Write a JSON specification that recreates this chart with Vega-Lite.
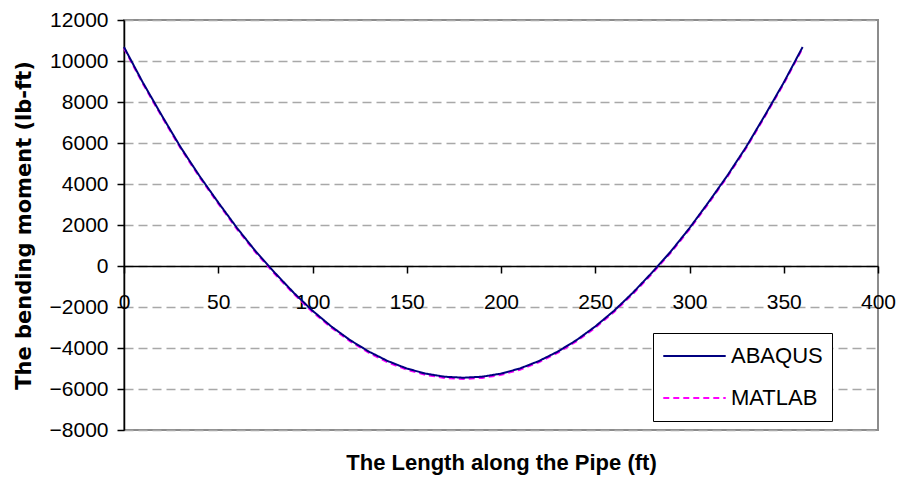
{
  "$schema": "https://vega.github.io/schema/vega-lite/v6.json",
  "width": 754,
  "height": 410,
  "autosize": {"type": "none"},
  "padding": {"left": 124, "top": 20, "right": 23, "bottom": 61},
  "background": "white",
  "config": {
    "view": {"stroke": "#8c8c8c", "strokeWidth": 2},
    "font": "Liberation Sans",
    "legend": {
      "title": null,
      "orient": "none",
      "legendX": 529,
      "legendY": 313,
      "direction": "vertical",
      "strokeColor": "black",
      "fillColor": "white",
      "padding": 9,
      "symbolType": "stroke",
      "symbolSize": 3900,
      "symbolStrokeWidth": 2,
      "labelFont": "Liberation Sans",
      "labelFontSize": 22,
      "labelColor": "black",
      "labelOffset": 4,
      "clipHeight": 28,
      "rowPadding": 14
    }
  },
  "datasets": {
    "curves": [
      {"x": 0, "M": 10680, "series": "ABAQUS"},
      {"x": 10, "M": 8950, "series": "ABAQUS"},
      {"x": 20, "M": 7350, "series": "ABAQUS"},
      {"x": 30, "M": 5800, "series": "ABAQUS"},
      {"x": 40, "M": 4400, "series": "ABAQUS"},
      {"x": 50, "M": 3100, "series": "ABAQUS"},
      {"x": 60, "M": 1850, "series": "ABAQUS"},
      {"x": 70, "M": 700, "series": "ABAQUS"},
      {"x": 80, "M": -330, "series": "ABAQUS"},
      {"x": 90, "M": -1300, "series": "ABAQUS"},
      {"x": 100, "M": -2180, "series": "ABAQUS"},
      {"x": 110, "M": -2950, "series": "ABAQUS"},
      {"x": 120, "M": -3620, "series": "ABAQUS"},
      {"x": 130, "M": -4180, "series": "ABAQUS"},
      {"x": 140, "M": -4640, "series": "ABAQUS"},
      {"x": 150, "M": -5000, "series": "ABAQUS"},
      {"x": 160, "M": -5250, "series": "ABAQUS"},
      {"x": 170, "M": -5400, "series": "ABAQUS"},
      {"x": 180, "M": -5450, "series": "ABAQUS"},
      {"x": 190, "M": -5400, "series": "ABAQUS"},
      {"x": 200, "M": -5250, "series": "ABAQUS"},
      {"x": 210, "M": -5000, "series": "ABAQUS"},
      {"x": 220, "M": -4640, "series": "ABAQUS"},
      {"x": 230, "M": -4180, "series": "ABAQUS"},
      {"x": 240, "M": -3620, "series": "ABAQUS"},
      {"x": 250, "M": -2950, "series": "ABAQUS"},
      {"x": 260, "M": -2180, "series": "ABAQUS"},
      {"x": 270, "M": -1300, "series": "ABAQUS"},
      {"x": 280, "M": -330, "series": "ABAQUS"},
      {"x": 290, "M": 700, "series": "ABAQUS"},
      {"x": 300, "M": 1850, "series": "ABAQUS"},
      {"x": 310, "M": 3100, "series": "ABAQUS"},
      {"x": 320, "M": 4400, "series": "ABAQUS"},
      {"x": 330, "M": 5800, "series": "ABAQUS"},
      {"x": 340, "M": 7350, "series": "ABAQUS"},
      {"x": 350, "M": 8950, "series": "ABAQUS"},
      {"x": 360, "M": 10680, "series": "ABAQUS"},
      {"x": 0, "M": 10620, "series": "MATLAB"},
      {"x": 10, "M": 8890, "series": "MATLAB"},
      {"x": 20, "M": 7290, "series": "MATLAB"},
      {"x": 30, "M": 5740, "series": "MATLAB"},
      {"x": 40, "M": 4340, "series": "MATLAB"},
      {"x": 50, "M": 3040, "series": "MATLAB"},
      {"x": 60, "M": 1790, "series": "MATLAB"},
      {"x": 70, "M": 640, "series": "MATLAB"},
      {"x": 80, "M": -390, "series": "MATLAB"},
      {"x": 90, "M": -1360, "series": "MATLAB"},
      {"x": 100, "M": -2240, "series": "MATLAB"},
      {"x": 110, "M": -3010, "series": "MATLAB"},
      {"x": 120, "M": -3680, "series": "MATLAB"},
      {"x": 130, "M": -4240, "series": "MATLAB"},
      {"x": 140, "M": -4700, "series": "MATLAB"},
      {"x": 150, "M": -5060, "series": "MATLAB"},
      {"x": 160, "M": -5310, "series": "MATLAB"},
      {"x": 170, "M": -5460, "series": "MATLAB"},
      {"x": 180, "M": -5510, "series": "MATLAB"},
      {"x": 190, "M": -5460, "series": "MATLAB"},
      {"x": 200, "M": -5310, "series": "MATLAB"},
      {"x": 210, "M": -5060, "series": "MATLAB"},
      {"x": 220, "M": -4700, "series": "MATLAB"},
      {"x": 230, "M": -4240, "series": "MATLAB"},
      {"x": 240, "M": -3680, "series": "MATLAB"},
      {"x": 250, "M": -3010, "series": "MATLAB"},
      {"x": 260, "M": -2240, "series": "MATLAB"},
      {"x": 270, "M": -1360, "series": "MATLAB"},
      {"x": 280, "M": -390, "series": "MATLAB"},
      {"x": 290, "M": 640, "series": "MATLAB"},
      {"x": 300, "M": 1790, "series": "MATLAB"},
      {"x": 310, "M": 3040, "series": "MATLAB"},
      {"x": 320, "M": 4340, "series": "MATLAB"},
      {"x": 330, "M": 5740, "series": "MATLAB"},
      {"x": 340, "M": 7290, "series": "MATLAB"},
      {"x": 350, "M": 8890, "series": "MATLAB"},
      {"x": 360, "M": 10620, "series": "MATLAB"}
    ]
  },
  "data": {"name": "curves"},
  "encoding": {
    "x": {
      "field": "x",
      "type": "quantitative",
      "scale": {"domain": [0, 400], "nice": false, "zero": false},
      "axis": {
        "title": "The Length along the Pipe (ft)",
        "values": [0, 50, 100, 150, 200, 250, 300, 350, 400],
        "format": "d",
        "offset": -164,
        "grid": false,
        "domainColor": "black",
        "domainWidth": 1.5,
        "tickColor": "black",
        "tickWidth": 1.5,
        "tickSize": 7,
        "labelFont": "Liberation Sans",
        "labelFontSize": 21,
        "labelColor": "black",
        "labelPadding": 18,
        "labelFlush": false,
        "labelOverlap": false,
        "titleFont": "Liberation Sans",
        "titleFontSize": 22,
        "titleFontWeight": "bold",
        "titleColor": "black",
        "titleBaseline": "middle",
        "titleY": 196
      }
    },
    "y": {
      "field": "M",
      "type": "quantitative",
      "scale": {"domain": [-8000, 12000], "nice": false, "zero": false},
      "axis": {
        "title": "The bending moment (lb-ft)",
        "values": [-8000, -6000, -4000, -2000, 0, 2000, 4000, 6000, 8000, 10000, 12000],
        "format": "d",
        "grid": true,
        "gridColor": "#a8a8a8",
        "gridDash": [9, 5],
        "gridWidth": 1.5,
        "domainColor": "black",
        "domainWidth": 1.5,
        "tickColor": "black",
        "tickWidth": 1.5,
        "tickSize": 7,
        "labelFont": "Liberation Sans",
        "labelFontSize": 21,
        "labelColor": "black",
        "labelPadding": 9,
        "labelFlush": false,
        "labelOverlap": false,
        "titleFont": "DejaVu Sans",
        "titleFontSize": 21,
        "titleFontWeight": "bold",
        "titleColor": "black",
        "titleAngle": -90,
        "titleBaseline": "middle",
        "titleX": -100
      }
    },
    "color": {
      "field": "series",
      "type": "nominal",
      "scale": {"domain": ["ABAQUS", "MATLAB"], "range": ["#000080", "#ff00ff"]}
    },
    "strokeDash": {
      "field": "series",
      "type": "nominal",
      "scale": {"domain": ["ABAQUS", "MATLAB"], "range": [[1, 0], [6, 4]]}
    }
  },
  "layer": [
    {
      "transform": [{"filter": "datum.series === 'MATLAB'"}],
      "mark": {"type": "line", "strokeWidth": 2}
    },
    {
      "transform": [{"filter": "datum.series === 'ABAQUS'"}],
      "mark": {"type": "line", "strokeWidth": 2}
    }
  ]
}
